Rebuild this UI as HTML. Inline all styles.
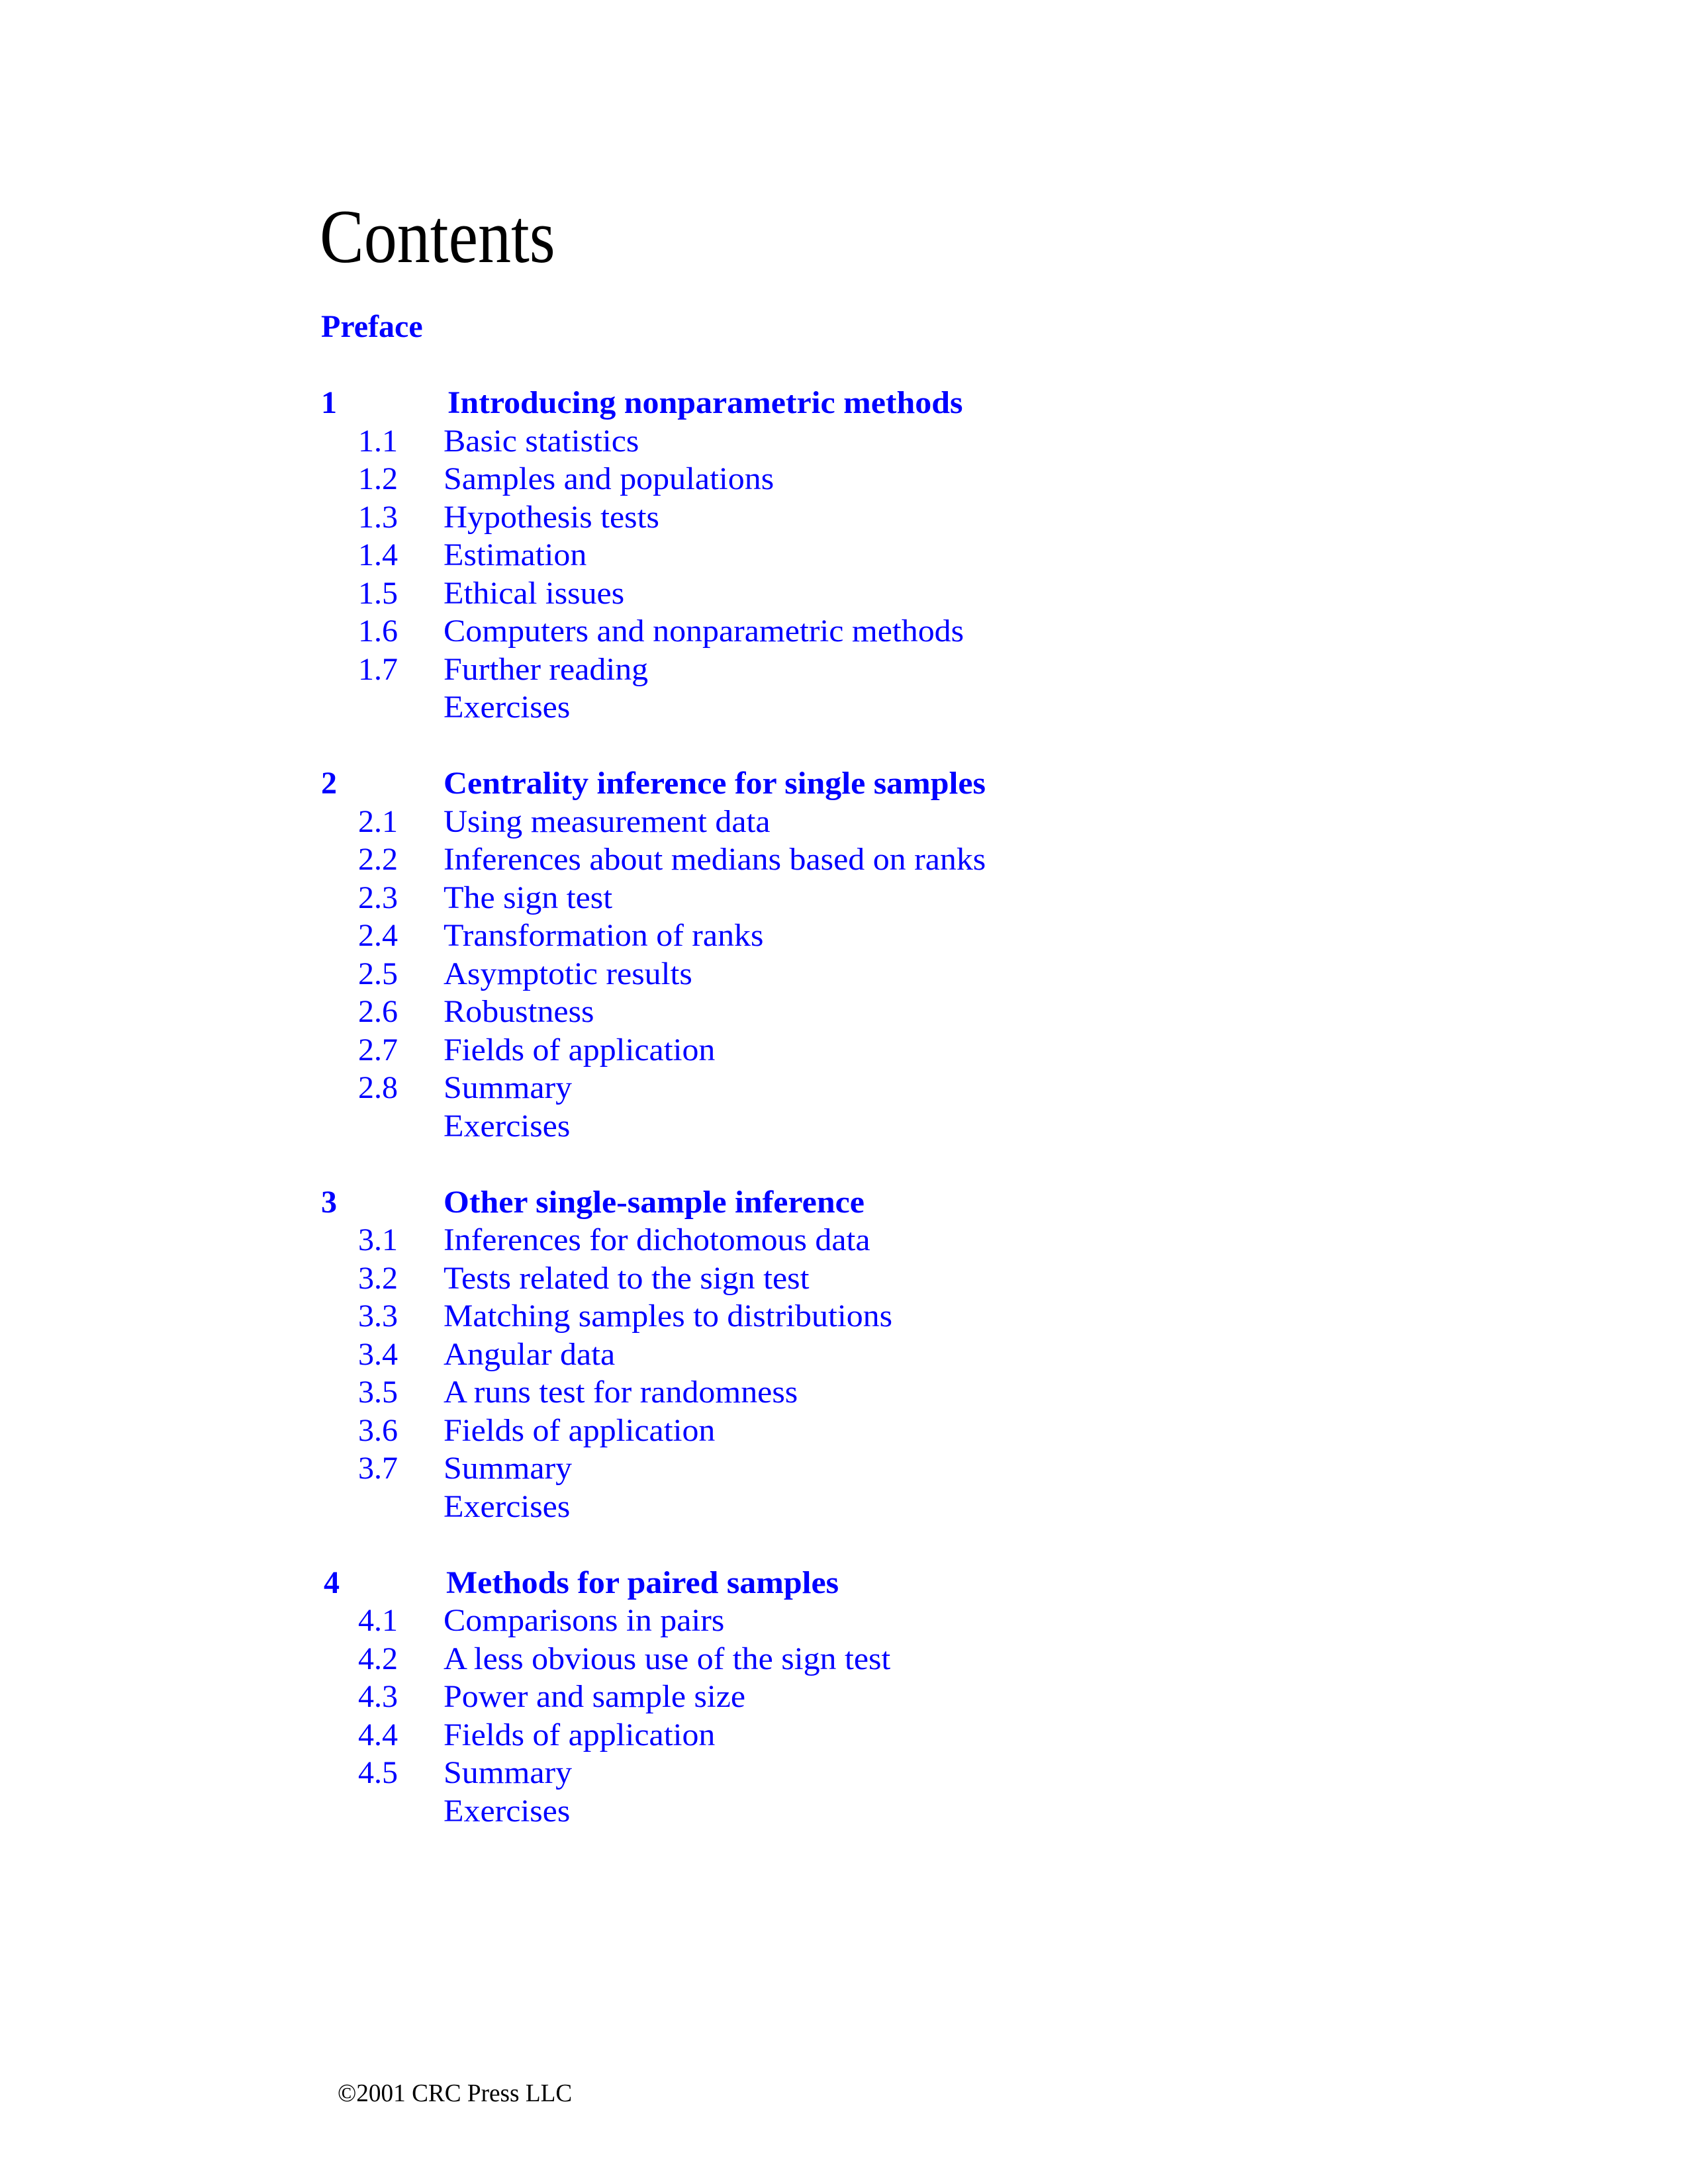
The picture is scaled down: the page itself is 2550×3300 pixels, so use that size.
<!DOCTYPE html>
<html><head><meta charset="utf-8"><style>
html,body{margin:0;padding:0;background:#fff;}
body{width:2550px;height:3300px;position:relative;overflow:hidden;font-family:"Liberation Serif","Times New Roman",serif;}
.t{position:absolute;white-space:nowrap;}
.h{font-size:115px;line-height:115px;color:#000;left:483px;top:300px;transform:scaleX(0.87);transform-origin:0 0;}
.r{position:absolute;left:0;height:57.5px;font-size:48px;line-height:57.5px;color:#0000ff;white-space:nowrap;width:2550px;}
.r span{position:absolute;top:0;}
.r span.x,.r span.w{transform:scaleX(1.04);transform-origin:0 0;}
.b{font-weight:bold;}
.n{left:541px;}
.x{left:670px;}
.f{font-size:38px;line-height:40px;color:#000;left:510px;top:3143px;transform:scaleX(0.98);transform-origin:0 0;}
</style></head><body>
<div class="t h">Contents</div>
<div class="r b" style="top:465px"><span style="left:485px">Preface</span></div>

<div class="r b" style="top:580px"><span style="left:485px">1</span><span class="w" style="left:676px">Introducing nonparametric methods</span></div>
<div class="r" style="top:637.5px"><span class="n">1.1</span><span class="x">Basic statistics</span></div>
<div class="r" style="top:695px"><span class="n">1.2</span><span class="x">Samples and populations</span></div>
<div class="r" style="top:752.5px"><span class="n">1.3</span><span class="x">Hypothesis tests</span></div>
<div class="r" style="top:810px"><span class="n">1.4</span><span class="x">Estimation</span></div>
<div class="r" style="top:867.5px"><span class="n">1.5</span><span class="x">Ethical issues</span></div>
<div class="r" style="top:925px"><span class="n">1.6</span><span class="x">Computers and nonparametric methods</span></div>
<div class="r" style="top:982.5px"><span class="n">1.7</span><span class="x">Further reading</span></div>
<div class="r" style="top:1040px"><span class="x">Exercises</span></div>

<div class="r b" style="top:1155px"><span style="left:485px">2</span><span class="w" style="left:670px">Centrality inference for single samples</span></div>
<div class="r" style="top:1212.5px"><span class="n">2.1</span><span class="x">Using measurement data</span></div>
<div class="r" style="top:1270px"><span class="n">2.2</span><span class="x">Inferences about medians based on ranks</span></div>
<div class="r" style="top:1327.5px"><span class="n">2.3</span><span class="x">The sign test</span></div>
<div class="r" style="top:1385px"><span class="n">2.4</span><span class="x">Transformation of ranks</span></div>
<div class="r" style="top:1442.5px"><span class="n">2.5</span><span class="x">Asymptotic results</span></div>
<div class="r" style="top:1500px"><span class="n">2.6</span><span class="x">Robustness</span></div>
<div class="r" style="top:1557.5px"><span class="n">2.7</span><span class="x">Fields of application</span></div>
<div class="r" style="top:1615px"><span class="n">2.8</span><span class="x">Summary</span></div>
<div class="r" style="top:1672.5px"><span class="x">Exercises</span></div>

<div class="r b" style="top:1787.5px"><span style="left:485px">3</span><span class="w" style="left:670px">Other single-sample inference</span></div>
<div class="r" style="top:1845px"><span class="n">3.1</span><span class="x">Inferences for dichotomous data</span></div>
<div class="r" style="top:1902.5px"><span class="n">3.2</span><span class="x">Tests related to the sign test</span></div>
<div class="r" style="top:1960px"><span class="n">3.3</span><span class="x">Matching samples to distributions</span></div>
<div class="r" style="top:2017.5px"><span class="n">3.4</span><span class="x">Angular data</span></div>
<div class="r" style="top:2075px"><span class="n">3.5</span><span class="x">A runs test for randomness</span></div>
<div class="r" style="top:2132.5px"><span class="n">3.6</span><span class="x">Fields of application</span></div>
<div class="r" style="top:2190px"><span class="n">3.7</span><span class="x">Summary</span></div>
<div class="r" style="top:2247.5px"><span class="x">Exercises</span></div>

<div class="r b" style="top:2362.5px"><span style="left:489px">4</span><span class="w" style="left:674px">Methods for paired samples</span></div>
<div class="r" style="top:2420px"><span class="n">4.1</span><span class="x">Comparisons in pairs</span></div>
<div class="r" style="top:2477.5px"><span class="n">4.2</span><span class="x">A less obvious use of the sign test</span></div>
<div class="r" style="top:2535px"><span class="n">4.3</span><span class="x">Power and sample size</span></div>
<div class="r" style="top:2592.5px"><span class="n">4.4</span><span class="x">Fields of application</span></div>
<div class="r" style="top:2650px"><span class="n">4.5</span><span class="x">Summary</span></div>
<div class="r" style="top:2707.5px"><span class="x">Exercises</span></div>

<div class="t f">©2001 CRC Press LLC</div>
</body></html>
